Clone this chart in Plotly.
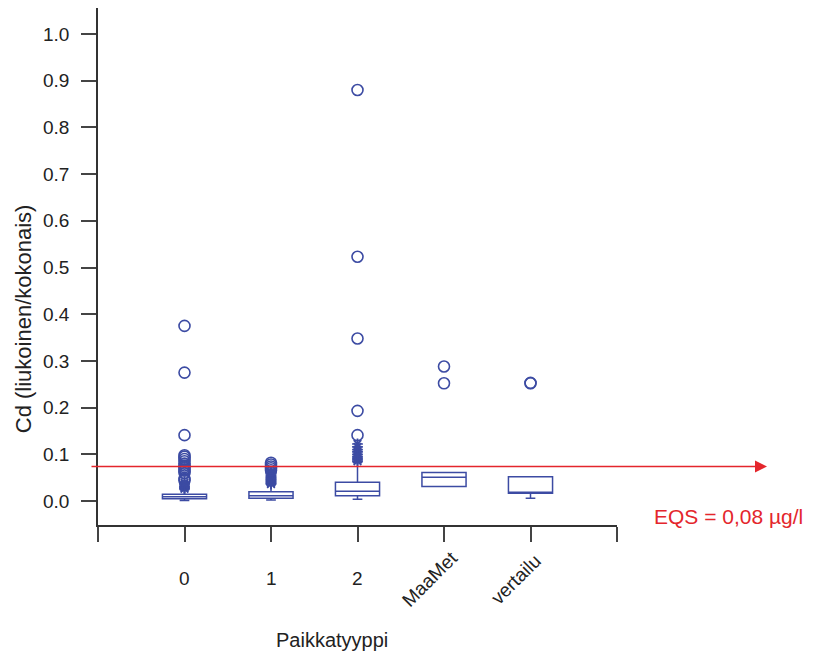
import plotly.graph_objects as go

# ---- data ----
categories = ["0", "1", "2", "MaaMet", "vertailu"]
positions = [1, 2, 3, 4, 5]
q1_vals = [0.005, 0.006, 0.011, 0.031, 0.0165]
median_vals = [0.009, 0.011, 0.021, 0.051, 0.018]
q3_vals = [0.0143, 0.020, 0.040, 0.061, 0.052]
lower_fence = [0.001, 0.002, 0.004, 0.031, 0.006]
upper_fence = [0.024, 0.034, 0.083, 0.061, 0.052]

# outside values (asterisks) and far-outside values (circles)
outside_vals = [
    [0.026, 0.028, 0.030, 0.032, 0.035, 0.038, 0.040],
    [0.036, 0.038, 0.040, 0.042, 0.044, 0.046, 0.048, 0.050, 0.052, 0.055, 0.058, 0.060, 0.062],
    [0.085, 0.088, 0.092, 0.095, 0.100, 0.105, 0.110, 0.116, 0.122],
    [],
    [],
]
far_vals = [
    [0.375, 0.275, 0.141, 0.098, 0.095, 0.090, 0.085, 0.080, 0.076, 0.072, 0.068, 0.065, 0.060, 0.047, 0.044],
    [0.066, 0.070, 0.074, 0.078, 0.082],
    [0.141, 0.193, 0.348, 0.523, 0.880],
    [0.288, 0.252],
    [0.252, 0.253],
]

y_ticks = [0.0, 0.1, 0.2, 0.3, 0.4, 0.5, 0.6, 0.7, 0.8, 0.9, 1.0]
x_ticks = [0, 1, 2, 3, 4, 5, 6]
eqs_level = 0.074
eqs_label = "EQS = 0,08 µg/l"
y_title = "Cd (liukoinen/kokonais)"
x_title = "Paikkatyyppi"

BLUE = "#3C4BA3"
RED = "#E4262C"
TXT = "#222222"
FONT = "Liberation Sans, Arial, sans-serif"

fig = go.Figure()

for i, p in enumerate(positions):
    fig.add_trace(go.Box(
        x=[p], q1=[q1_vals[i]], median=[median_vals[i]], q3=[q3_vals[i]],
        lowerfence=[lower_fence[i]], upperfence=[upper_fence[i]],
        width=0.51, whiskerwidth=0.22, boxpoints=False,
        line=dict(color=BLUE, width=1.5), fillcolor="rgba(0,0,0,0)",
        showlegend=False, hoverinfo="skip",
    ))
    if outside_vals[i]:
        fig.add_trace(go.Scatter(
            x=[p] * len(outside_vals[i]), y=outside_vals[i], mode="markers",
            marker=dict(symbol="asterisk-open", size=9, color=BLUE,
                        line=dict(color=BLUE, width=1.7)),
            showlegend=False, hoverinfo="skip",
        ))
    if far_vals[i]:
        fig.add_trace(go.Scatter(
            x=[p] * len(far_vals[i]), y=far_vals[i], mode="markers",
            marker=dict(symbol="circle-open", size=11, color=BLUE,
                        line=dict(color=BLUE, width=1.6)),
            showlegend=False, hoverinfo="skip",
        ))

annotations = []
# category labels
for i, (p, c) in enumerate(zip(positions, categories)):
    if i < 3:
        annotations.append(dict(x=p, y=0, xref="x", yref="paper", text=c,
                                showarrow=False, yshift=-53, yanchor="middle",
                                xanchor="center", font=dict(size=19, color=TXT, family=FONT)))
    else:
        annotations.append(dict(x=p, y=0, xref="x", yref="paper", text=c,
                                showarrow=False, yshift=-54, xshift=-15, textangle=-45,
                                yanchor="middle", xanchor="center",
                                font=dict(size=19, color=TXT, family=FONT)))
# axis titles
annotations.append(dict(x=0, y=0.398, xref="paper", yref="paper", text=y_title,
                        showarrow=False, xshift=-75, textangle=-90,
                        xanchor="center", yanchor="middle",
                        font=dict(size=22, color=TXT, family=FONT)))
annotations.append(dict(x=0.451, y=0, xref="paper", yref="paper", text=x_title,
                        showarrow=False, yshift=-115, xanchor="center", yanchor="middle",
                        font=dict(size=20, color=TXT, family=FONT)))
# EQS arrow line
annotations.append(dict(x=1.289, y=eqs_level, xref="paper", yref="y", text="",
                        showarrow=True, ax=-677, ay=0, axref="pixel", ayref="pixel",
                        arrowhead=2, arrowsize=1.6, arrowwidth=1.5, arrowcolor=RED,
                        standoff=0, startstandoff=0))
annotations.append(dict(x=1.362, y=-0.034, xref="paper", yref="y", text=eqs_label,
                        showarrow=False, xanchor="right", yanchor="middle",
                        font=dict(size=21, color=RED, family=FONT)))

fig.update_layout(
    width=805, height=647,
    margin=dict(l=90, r=196, t=0, b=130),
    paper_bgcolor="white", plot_bgcolor="white",
    boxmode="overlay",
    font=dict(family=FONT, color=TXT),
    annotations=annotations,
    xaxis=dict(range=[0, 6], tickvals=x_ticks, showticklabels=False,
               ticks="outside", ticklen=15, tickwidth=1.5, tickcolor="#444",
               showline=True, linecolor="#333", linewidth=1.5,
               showgrid=False, zeroline=False),
    yaxis=dict(range=[-0.0514, 1.0557], tickvals=y_ticks, tickformat=".1f",
               ticks="outside", ticklen=15, tickwidth=1.5, tickcolor="#444",
               ticklabelstandoff=8,
               tickfont=dict(size=19, color=TXT, family=FONT),
               showline=True, linecolor="#333", linewidth=1.5,
               showgrid=False, zeroline=False),
)

fig.write_html("out.html")
